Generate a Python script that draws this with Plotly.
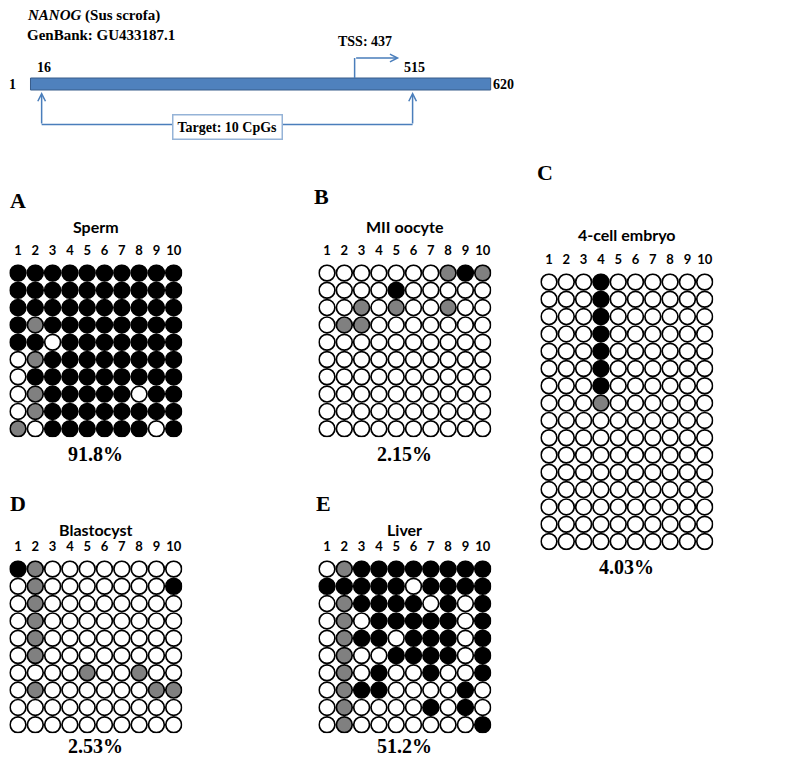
import plotly.graph_objects as go

W, H = 798, 759
SERIF = "Liberation Serif"
SANS = "Lato"

# ---------------- data ----------------
gene_length = 620
target_start = 16
target_end = 515
tss = 437
gene_title = "<b><i>NANOG</i> (Sus scrofa)</b>"
genbank = "<b>GenBank: GU433187.1</b>"
target_text = "<b>Target: 10 CpGs</b>"

cpg_labels = [str(i) for i in range(1, 11)]
panel_letters = ["A", "B", "C", "D", "E"]
samples = ["Sperm", "MII oocyte", "4-cell embryo", "Blastocyst", "Liver"]
percentages = ["91.8%", "2.15%", "4.03%", "2.53%", "51.2%"]

# M = methylated (black), U = unmethylated (white), P = partial (grey)
sperm = [
    "MMMMMMMMMM",
    "MMMMMMMMMM",
    "MMMMMMMMMM",
    "MPMMMMMMMM",
    "MMUMMMMMMM",
    "UPMMMMMMMM",
    "UMMMMMMMMM",
    "UPMMMMMUMM",
    "UPMMMMMMMM",
    "PUMMMMMMUM",
]
oocyte = [
    "UUUUUUUPMP",
    "UUUUMUUUUU",
    "UUPUPUUPUU",
    "UPPUUUUUUU",
    "UUUUUUUUUU",
    "UUUUUUUUUU",
    "UUUUUUUUUU",
    "UUUUUUUUUU",
    "UUUUUUUUUU",
    "UUUUUUUUUU",
]
embryo = [
    "UUUMUUUUUU",
    "UUUMUUUUUU",
    "UUUMUUUUUU",
    "UUUMUUUUUU",
    "UUUMUUUUUU",
    "UUUMUUUUUU",
    "UUUMUUUUUU",
    "UUUPUUUUUU",
    "UUUUUUUUUU",
    "UUUUUUUUUU",
    "UUUUUUUUUU",
    "UUUUUUUUUU",
    "UUUUUUUUUU",
    "UUUUUUUUUU",
    "UUUUUUUUUU",
    "UUUUUUUUUU",
]
blastocyst = [
    "MPUUUUUUUU",
    "UPUUUUUUUM",
    "UPUUUUUUUU",
    "UPUUUUUUUU",
    "UPUUUUUUUU",
    "UPUUUUUUUU",
    "UUUUPUUPUU",
    "UPUUUUUUPP",
    "UUUUUUUUUU",
    "UUUUUUUUUU",
]
liver = [
    "UPMMMMMMMM",
    "MMMMMUMMMM",
    "UPMMMMUMUM",
    "UPUMMMMMUM",
    "UPMMUMMMUM",
    "UPUUMMMMUM",
    "UPUMUUMUUM",
    "UPMMUUUUMU",
    "UPUUUUMUMU",
    "UPUUUUUUUM",
]
patterns = [sperm, oocyte, embryo, blastocyst, liver]

# ---------------- layout helpers ----------------
STATE_COLOR = {"M": "#000000", "U": "#ffffff", "P": "#808080"}
S = 17.3  # px per CpG cell
# first-column centre x, first-row centre y (px)
panel_pos = [(10, 265), (319, 265), (541, 274), (10, 561), (319, 561)]
# offsets above first row: (letter, title); letter x offset
letter_dy = [73, 77, 110, 66, 66]
title_dy = [47, 47, 47, 40, 40]
letter_dx = [0, -6, -4, 0, -4]
pct_dy = [25, 25, 25, 21, 21]

fig = go.Figure()

# gene axis: position -> px = a + b*pos
b_scale, a_off = 0.7434, 21.75
gx_range = [(0 - a_off) / b_scale, (W - a_off) / b_scale]

fig.add_trace(go.Scatter(x=[1], y=[H], mode="markers", marker=dict(opacity=0),
                         hoverinfo="skip", showlegend=False, xaxis="x", yaxis="y"))

layout = dict(
    width=W, height=H, autosize=False,
    margin=dict(l=0, r=0, t=0, b=0),
    paper_bgcolor="white", plot_bgcolor="rgba(0,0,0,0)",
    showlegend=False,
    xaxis=dict(domain=[0, 1], range=gx_range, visible=False, fixedrange=True),
    yaxis=dict(domain=[0, 1], range=[H, 0], visible=False, fixedrange=True),
)

annotations = []
shapes = []

for i, (rows, (cx, cy)) in enumerate(zip(patterns, panel_pos)):
    k = i + 2
    n = len(rows)
    left = cx - S / 2
    right = left + 10 * S
    top = cy - S / 2
    bottom = top + n * S
    xs, ys, cols = [], [], []
    for r, row in enumerate(rows):
        for c, st in enumerate(row):
            xs.append(c + 1)
            ys.append(r + 1)
            cols.append(STATE_COLOR[st])
    fig.add_trace(go.Scatter(
        x=xs, y=ys, mode="markers", xaxis=f"x{k}", yaxis=f"y{k}",
        marker=dict(size=15.8, color=cols, line=dict(color="black", width=1.7)),
        hoverinfo="skip", showlegend=False))
    layout[f"xaxis{k}"] = dict(
        domain=[left / W, right / W], range=[0.5, 10.5], side="top",
        tickvals=list(range(1, 11)), ticktext=cpg_labels, ticks="",
        showgrid=False, zeroline=False, showline=False, anchor=f"y{k}",
        tickfont=dict(family=SANS, size=13, color="black", weight="bold"),
        ticklabelstandoff=6, fixedrange=True)
    layout[f"yaxis{k}"] = dict(
        domain=[1 - bottom / H, 1 - top / H], range=[n + 0.5, 0.5],
        visible=False, anchor=f"x{k}", fixedrange=True)
    mid = (left + right) / 2
    # title
    annotations.append(dict(text=f"<b>{samples[i]}</b>", x=mid / W, y=1 - (cy - title_dy[i]) / H,
                            xref="paper", yref="paper", showarrow=False,
                            font=dict(family=SANS, size=16, color="black"),
                            xanchor="center", yanchor="middle"))
    # letter
    annotations.append(dict(text=f"<b>{panel_letters[i]}</b>",
                            x=(cx + letter_dx[i]) / W, y=1 - (cy - letter_dy[i]) / H,
                            xref="paper", yref="paper", showarrow=False,
                            font=dict(family=SERIF, size=22, color="black"),
                            xanchor="center", yanchor="middle"))
    # percentage
    last = cy + (n - 1) * S
    annotations.append(dict(text=f"<b>{percentages[i]}</b>", x=mid / W,
                            y=1 - (last + pct_dy[i]) / H,
                            xref="paper", yref="paper", showarrow=False,
                            font=dict(family=SERIF, size=20, color="black"),
                            xanchor="center", yanchor="middle"))

# ---------------- gene diagram ----------------
BLUE = "#4a7ebb"
shapes.append(dict(type="rect", xref="x", yref="y", x0=1, x1=gene_length, y0=70, y1=82,
                   fillcolor="#4f81bd", line=dict(color="#385d8a", width=1)))
shapes.append(dict(type="line", xref="x", yref="y", x0=tss, x1=tss, y0=70, y1=50,
                   line=dict(color=BLUE, width=1.5)))
shapes.append(dict(type="line", xref="x", yref="y", x0=target_start, x1=target_end,
                   y0=116.5, y1=116.5, line=dict(color=BLUE, width=1.5)))

arrow_common = dict(xref="x", yref="y", axref="x", ayref="y", text="", showarrow=True,
                    arrowhead=5, arrowsize=1, arrowwidth=1.5, arrowcolor=BLUE)
annotations.append(dict(x=tss + 60, y=50, ax=tss, ay=50, **arrow_common))
annotations.append(dict(x=target_start, y=84, ax=target_start, ay=117, **arrow_common))
annotations.append(dict(x=target_end, y=84, ax=target_end, ay=117, **arrow_common))

annotations.append(dict(text=target_text, x=(219 - a_off) / b_scale, y=119, xref="x", yref="y",
                        showarrow=False, bgcolor="white", bordercolor="#95b3d7",
                        borderwidth=1.5, borderpad=4,
                        font=dict(family=SERIF, size=14, color="black")))

def gene_label(text, x, y, xanchor="center", xshift=0, size=14):
    annotations.append(dict(text=f"<b>{text}</b>", x=x, y=y, xref="x", yref="y",
                            showarrow=False, xanchor=xanchor, yanchor="middle", xshift=xshift,
                            font=dict(family=SERIF, size=size, color="black")))

gene_label("1", 1, 76, xanchor="right", xshift=-12)
gene_label(str(gene_length), gene_length, 76, xanchor="left", xshift=0)
gene_label(str(target_start), target_start, 59, xanchor="center", xshift=2)
gene_label(str(target_end), target_end, 59, xanchor="center", xshift=2)
gene_label(f"TSS: {tss}", tss, 33, xanchor="left", xshift=-19)

annotations.append(dict(text=gene_title, x=17 / W, y=1 - 8 / H, xref="paper", yref="paper",
                        showarrow=False, xanchor="left", yanchor="middle",
                        font=dict(family=SERIF, size=15, color="black")))
annotations.append(dict(text=genbank, x=17 / W, y=1 - 27 / H, xref="paper", yref="paper",
                        showarrow=False, xanchor="left", yanchor="middle",
                        font=dict(family=SERIF, size=15, color="black")))

layout["annotations"] = annotations
layout["shapes"] = shapes
fig.update_layout(**layout)

fig.write_html("out.html")
